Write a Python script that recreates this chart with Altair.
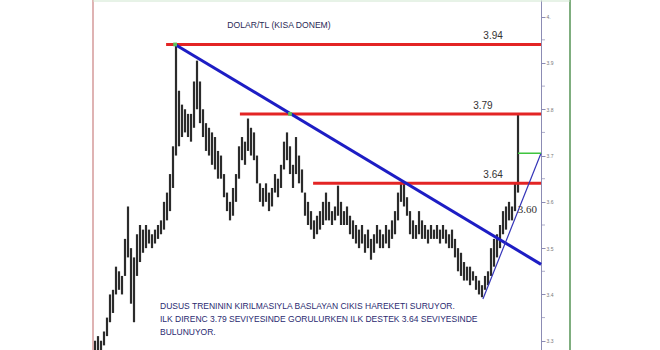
import altair as alt
import pandas as pd

# Daily USD/TRY bars (high / low), one per trading session
highs = [3.30, 3.31, 3.30, 3.32, 3.35, 3.40, 3.41, 3.46, 3.45, 3.44,
         3.52, 3.59, 3.50, 3.48, 3.53, 3.55, 3.54, 3.55, 3.54, 3.53,
         3.54, 3.55, 3.56, 3.60, 3.62, 3.66, 3.72, 3.94, 3.84, 3.81,
         3.80, 3.79, 3.79, 3.86, 3.905, 3.86, 3.80, 3.77, 3.76, 3.75,
         3.74, 3.71, 3.70, 3.66, 3.62, 3.60, 3.63, 3.66, 3.72, 3.74,
         3.73, 3.78, 3.76, 3.75, 3.70, 3.64, 3.63, 3.64, 3.62, 3.63,
         3.66, 3.65, 3.68, 3.73, 3.75, 3.72, 3.68, 3.74, 3.70, 3.67,
         3.62, 3.60, 3.58, 3.56, 3.57, 3.58, 3.60, 3.62, 3.60, 3.58,
         3.59, 3.635, 3.60, 3.58, 3.59, 3.57, 3.56, 3.55, 3.54, 3.55,
         3.53, 3.54, 3.52, 3.53, 3.55, 3.54, 3.53, 3.55, 3.54, 3.56,
         3.58, 3.62, 3.643, 3.64, 3.61, 3.58, 3.56, 3.55, 3.58, 3.56,
         3.55, 3.54, 3.55, 3.54, 3.55, 3.54, 3.55, 3.54, 3.53, 3.54,
         3.52, 3.50, 3.49, 3.47, 3.46, 3.46, 3.45, 3.44, 3.43, 3.42,
         3.44, 3.45, 3.50, 3.52, 3.53, 3.55, 3.58, 3.59, 3.60, 3.59,
         3.64, 3.79]
lows = [3.28, 3.28, 3.28, 3.29, 3.31, 3.34, 3.36, 3.40, 3.41, 3.40,
        3.44, 3.48, 3.38, 3.34, 3.44, 3.47, 3.49, 3.50, 3.51, 3.50,
        3.51, 3.52, 3.53, 3.54, 3.56, 3.58, 3.63, 3.70, 3.72, 3.74,
        3.75, 3.74, 3.73, 3.76, 3.80, 3.77, 3.74, 3.71, 3.70, 3.68,
        3.67, 3.65, 3.65, 3.61, 3.58, 3.56, 3.57, 3.60, 3.65, 3.69,
        3.68, 3.71, 3.70, 3.69, 3.64, 3.60, 3.59, 3.60, 3.58, 3.59,
        3.62, 3.61, 3.63, 3.67, 3.69, 3.66, 3.63, 3.66, 3.64, 3.62,
        3.57, 3.55, 3.54, 3.52, 3.53, 3.54, 3.55, 3.56, 3.56, 3.55,
        3.56, 3.57, 3.55, 3.55, 3.55, 3.53, 3.52, 3.51, 3.50, 3.51,
        3.49, 3.50, 3.475, 3.49, 3.51, 3.50, 3.50, 3.51, 3.50, 3.52,
        3.53, 3.56, 3.60, 3.59, 3.57, 3.53, 3.52, 3.52, 3.53, 3.52,
        3.52, 3.51, 3.52, 3.52, 3.52, 3.51, 3.52, 3.51, 3.50, 3.50,
        3.48, 3.45, 3.44, 3.43, 3.43, 3.42, 3.43, 3.41, 3.40, 3.394,
        3.41, 3.42, 3.44, 3.46, 3.48, 3.50, 3.53, 3.54, 3.56, 3.56,
        3.58, 3.62]
sessions = list(range(len(highs)))

# Horizontal resistance / support levels
level_values = [3.94, 3.79, 3.64]
level_starts = [23.7, 48.3, 72.7]
level_labels = ["3.94", "3.79", "3.64"]
label_sessions = [132.7, 129.3, 132.7]
edge = 148.67

# Falling trend line (from the 3.94 top) and rising support from the low
down_t = [26.7, edge]
down_v = [3.94, 3.465]
up_t = [129.3, edge]
up_v = [3.39, 3.705]
touch_t = [26.7, 65.0]
touch_v = [3.94, 3.79]
last_close = 3.705
last_t = [141.0, edge]

title_text = "DOLAR/TL (KISA DONEM)"
note_lines = [
    "DUSUS TRENININ KIRILMASIYLA BASLAYAN CIKIS HAREKETI SURUYOR.",
    "ILK DIRENC 3.79 SEVIYESINDE GORULURKEN  ILK DESTEK 3.64 SEVIYESINDE",
    "BULUNUYOR.",
]
y_ticks = [3.3, 3.4, 3.5, 3.6, 3.7, 3.8, 3.9, 4.0]
minor_ticks = [3.35, 3.45, 3.55, 3.65, 3.75, 3.85, 3.95]

xs = alt.Scale(domain=[-0.667, 158.33], nice=False, zero=False)
ys = alt.Scale(domain=[3.28, 4.036], nice=False, zero=False)

price_axis = alt.Axis(
    orient="right", offset=-29, values=y_ticks,
    labelExpr="datum.value > 3.95 ? '4.' : format(datum.value, '.1f')",
    labelFontSize=5, labelColor="#777", labelPadding=1, domainColor="#8c8cb4",
    tickColor="#8c8cb4", tickSize=4, grid=False, title=None,
    labelFont="Liberation Sans")

bars_df = pd.DataFrame({"t": sessions, "high": highs, "low": lows})
levels_df = pd.DataFrame({"start": level_starts, "end": [edge] * 3,
                          "v": level_values, "label": level_labels,
                          "lt": label_sessions})
down_df = pd.DataFrame({"t": down_t, "v": down_v})
up_df = pd.DataFrame({"t": up_t, "v": up_v})
touch_df = pd.DataFrame({"t": touch_t, "v": touch_v})
close_df = pd.DataFrame({"start": [last_t[0]], "end": [last_t[1]], "v": [last_close]})


def X(f):
    return alt.X(f, type="quantitative", scale=xs, axis=None)


def Y(f):
    return alt.Y(f, type="quantitative", scale=ys, axis=price_axis)


bars = alt.Chart(bars_df).mark_rule(color="#2b2b2b", strokeWidth=2.2).encode(
    x=X("t"), y=Y("low:Q"), y2="high:Q")

minor = alt.Chart(pd.DataFrame({"v": minor_ticks})).mark_tick(
    color="#8c8cb4", size=4, thickness=1, orient="horizontal").encode(
    x=alt.value(450), y=Y("v:Q"))

levels = alt.Chart(levels_df).mark_rule(color="#e32424", strokeWidth=3).encode(
    x=X("start:Q"), x2="end:Q", y=Y("v:Q"))

level_text = alt.Chart(levels_df).mark_text(
    font="Liberation Sans", fontSize=10, color="#333", baseline="bottom", dy=-3).encode(
    x=X("lt:Q"), y=Y("v:Q"), text="label:N")

down = alt.Chart(down_df).mark_line(color="#1d1dc4", strokeWidth=3).encode(x=X("t:Q"), y=Y("v:Q"))
up = alt.Chart(up_df).mark_line(color="#3434b8", strokeWidth=1.2).encode(x=X("t:Q"), y=Y("v:Q"))
touches = alt.Chart(touch_df).mark_square(color="#5cc25c", size=14, opacity=1).encode(
    x=X("t:Q"), y=Y("v:Q"))
close_line = alt.Chart(close_df).mark_rule(color="#3fc43f", strokeWidth=1.5).encode(
    x=X("start:Q"), x2="end:Q", y=Y("v:Q"))
close_label = alt.Chart(pd.DataFrame({"t": [140.9], "v": [3.582], "s": ["3.60"]})).mark_text(
    font="Liberation Serif", fontSize=11, color="#333", align="left", baseline="middle").encode(
    x=X("t:Q"), y=Y("v:Q"), text="s:N")

title = alt.Chart(pd.DataFrame({"a": [0]})).mark_text(
    text=title_text, font="Liberation Sans", fontSize=8.6, color="#2a2a55",
    align="center", baseline="middle").encode(x=alt.value(186), y=alt.value(25))

notes = alt.Chart(pd.DataFrame({"a": [0]})).mark_text(
    text=note_lines, lineHeight=13, font="Liberation Sans", fontSize=8.5,
    color="#2a2a70", align="left", baseline="middle").encode(
    x=alt.value(67), y=alt.value(306))

left_border = alt.Chart(pd.DataFrame({"a": [0]})).mark_rule(color="#d49a9a", strokeWidth=1.5).encode(
    x=alt.value(0), y=alt.value(0), y2=alt.value(350))
right_border = alt.Chart(pd.DataFrame({"a": [0]})).mark_rule(color="#7fae7f", strokeWidth=2).encode(
    x=alt.value(477), y=alt.value(0), y2=alt.value(350))
top_border = alt.Chart(pd.DataFrame({"a": [0]})).mark_rule(color="#cfe6cf", strokeWidth=1).encode(
    x=alt.value(0), x2=alt.value(477), y=alt.value(1))

chart = alt.layer(
    bars, minor, levels, down, up, close_line, touches, level_text, close_label,
    title, notes, left_border, right_border, top_border
).properties(
    width=477, height=350,
    padding={"left": 93, "top": 0, "right": 90, "bottom": 0},
    autosize=alt.AutoSizeParams(type="none"),
    background="white",
).configure_view(stroke=None)

chart.save("out.html", embed_options={"renderer": "svg", "actions": False})
